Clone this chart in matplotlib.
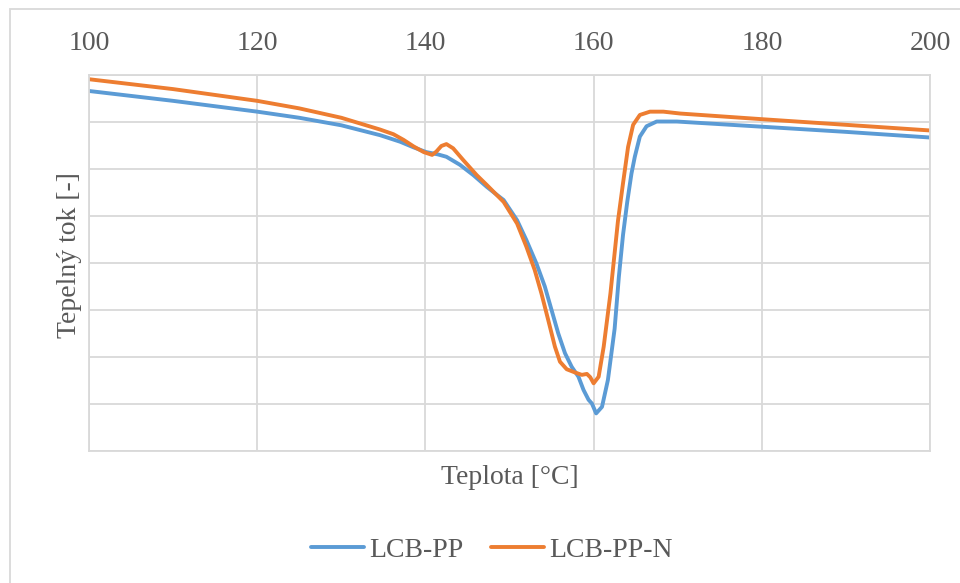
import matplotlib
matplotlib.use("Agg")
import matplotlib.pyplot as plt
from matplotlib.patches import Rectangle

# teplota [°C] a tepelny tok (relativni jednotky)
t_lcb = [100, 110, 120, 125, 130, 134.6, 137.0, 138.6, 140.1, 141.5, 142.5,
         144.1, 145.7, 147.3, 148.5, 149.3, 150.9, 152.0, 153.2, 154.2, 155.0,
         155.8, 156.6, 157.4, 158.2, 158.8, 159.4, 159.8, 160.3, 161.0, 161.7,
         162.5, 163.0, 163.5, 164.0, 164.5, 164.9, 165.5, 166.3, 167.5, 169.9,
         180, 190, 200]
q_lcb = [7.66, 7.45, 7.22, 7.09, 6.93, 6.72, 6.58, 6.46, 6.36, 6.31, 6.26,
         6.09, 5.87, 5.62, 5.45, 5.34, 4.91, 4.49, 3.99, 3.50, 3.00,
         2.50, 2.08, 1.79, 1.58, 1.30, 1.09, 1.01, 0.80, 0.94, 1.51,
         2.60, 3.70, 4.60, 5.30, 5.90, 6.26, 6.69, 6.91, 7.01, 7.01,
         6.90, 6.79, 6.67]

t_lcbn = [100, 110, 120, 125, 130, 134.6, 136.2, 137.4, 138.6, 139.8, 140.8,
          141.3, 141.9, 142.5, 143.3, 144.5, 146.1, 147.3, 149.3, 150.9, 152.0,
          153.0, 153.8, 154.6, 155.4, 156.0, 156.8, 157.8, 158.6, 159.2, 159.6,
          160.0, 160.6, 161.2, 162.0, 162.9, 163.5, 164.1, 164.7, 165.5, 166.7,
          168.3, 170.3, 180, 190, 200]
q_lcbn = [7.91, 7.70, 7.45, 7.29, 7.09, 6.84, 6.74, 6.62, 6.48, 6.36, 6.30,
          6.37, 6.49, 6.53, 6.44, 6.19, 5.87, 5.66, 5.30, 4.84, 4.35,
          3.85, 3.35, 2.79, 2.22, 1.90, 1.74, 1.67, 1.62, 1.64, 1.57,
          1.44, 1.58, 2.22, 3.35, 4.90, 5.70, 6.47, 6.94, 7.15, 7.22,
          7.22, 7.18, 7.06, 6.94, 6.82]

x_ticks = [100, 120, 140, 160, 180, 200]

grey = '#595959'
grid = '#D9D9D9'
plt.rcParams['font.family'] = ['Liberation Serif', 'DejaVu Serif']

fig = plt.figure(figsize=(9.6, 5.83), dpi=100)
ax = fig.add_axes([89 / 960, 1 - 451 / 583, 841 / 960, 376 / 583])

ax.plot(t_lcb, q_lcb, color='#5B9BD5', lw=2.8, label='LCB-PP',
        solid_capstyle='round', solid_joinstyle='round')
ax.plot(t_lcbn, q_lcbn, color='#ED7D31', lw=2.8, label='LCB-PP-N',
        solid_capstyle='round', solid_joinstyle='round')

ax.set_xlim(100, 200)
ax.set_ylim(0, 8)
ax.set_xticks(x_ticks)
ax.set_yticks(range(9))
ax.set_yticklabels([])
ax.xaxis.tick_top()
ax.tick_params(axis='x', length=0, pad=14, labelsize=20, labelcolor=grey)
ax.tick_params(axis='y', length=0)
ax.grid(True, color=grid, lw=1.3)
for s in ax.spines.values():
    s.set_color(grid)
    s.set_linewidth(1.3)

fig.text(509.5 / 960, 1 - 478 / 583, 'Teplota [°C]', ha='center', va='center',
         fontsize=20, color=grey)
fig.text(70 / 960, 1 - 255 / 583, 'Tepelný tok [-]', ha='center', va='center',
         rotation=90, fontsize=20, color=grey)

leg = fig.legend(loc='center', bbox_to_anchor=(492 / 960, 1 - 550 / 583), ncol=2,
                 frameon=False, fontsize=20, handlelength=1.9, handletextpad=0.2,
                 columnspacing=1.0)
for txt in leg.get_texts():
    txt.set_color(grey)

fig.patches.append(Rectangle((9.5 / 960, -0.1), 2, 1 - 9.5 / 583 + 0.1,
                             transform=fig.transFigure, fill=False,
                             edgecolor=grid, lw=1.3))

fig.savefig('out.png', dpi=100)
